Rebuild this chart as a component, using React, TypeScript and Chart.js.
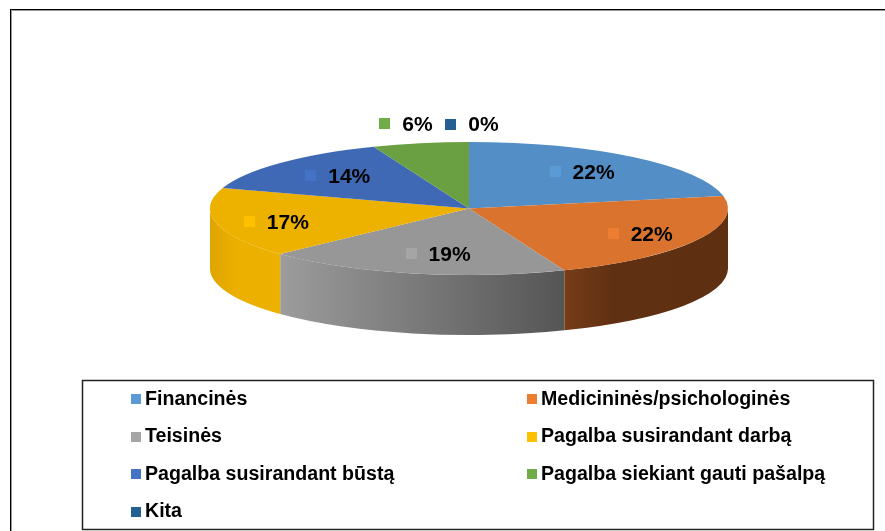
import React, { useEffect, useRef } from "react";
import { Chart, registerables } from "chart.js";

Chart.register(...registerables);

const categories = [
  "Financinės",
  "Medicininės/psichologinės",
  "Teisinės",
  "Pagalba susirandant darbą",
  "Pagalba susirandant būstą",
  "Pagalba siekiant gauti pašalpą",
  "Kita",
];
const shares = [22, 22, 19, 17, 14, 6, 0];

const legendColors = ["#5B9BD5", "#ED7D31", "#A5A5A5", "#FFC000", "#4472C4", "#70AD47", "#255E91"];
const topColors = ["#538FC6", "#D9732D", "#979797", "#EDB100", "#3F69B4", "#6AA042", "#255E91"];
const wallStops: [number, string][][] = [
  [[0, "#3A6285"], [1, "#3A6285"]],
  [[0, "#773C18"], [0.3, "#603012"], [1, "#5F2F12"]],
  [[0, "#9C9C9C"], [1, "#555555"]],
  [[0, "#DFA500"], [0.4, "#EBB000"], [1, "#EDB100"]],
  [[0, "#2E4C82"], [1, "#2E4C82"]],
  [[0, "#4C742F"], [1, "#4C742F"]],
  [[0, "#1A4368"], [1, "#1A4368"]],
];
// label nudges (px) from the point at 60% of the radius on each slice's mid-angle
const labelNudge = [[14, -6], [35, 6], [3, 7], [-41, 5], [-18, -5], [-34, -45], [3, -44]];

const CX = 469;
const CY = 208.5;
const RY_RATIO = 66.5 / 259;
const WALL = 60;
const FONT = '"Liberation Sans", Arial, sans-serif';

const pie3d = {
  id: "pie3d",
  beforeDraw(chart: any) {
    const { ctx, width, height } = chart;
    ctx.save();
    ctx.fillStyle = "#fff";
    ctx.fillRect(0, 0, width, height);
    ctx.fillStyle = "#000";
    ctx.fillRect(10, 9, width - 10, 1);
    ctx.fillRect(10, 9, 1, height - 9);
    ctx.fillStyle = "#999";
    ctx.fillRect(11, 10, width - 11, 1);
    ctx.fillRect(11, 10, 1, height - 10);
    ctx.restore();
  },
  beforeDatasetsDraw(chart: any) {
    const { ctx } = chart;
    const arcs = chart.getDatasetMeta(0).data;
    ctx.save();
    arcs.forEach((arc: any, i: number) => {
      const rx = arc.outerRadius;
      const ry = rx * RY_RATIO;
      const a0 = Math.max(arc.startAngle, 0);
      const a1 = Math.min(arc.endAngle, Math.PI);
      if (a1 <= a0) return;
      const x0 = CX + rx * Math.cos(a0);
      const x1 = CX + rx * Math.cos(a1);
      const g = ctx.createLinearGradient(Math.min(x0, x1), 0, Math.max(x0, x1), 0);
      // stops run left to right on screen
      wallStops[i].forEach(([p, c]) => g.addColorStop(p, c));
      ctx.beginPath();
      ctx.ellipse(CX, CY, rx, ry, 0, a0, a1, false);
      ctx.lineTo(CX + rx * Math.cos(a1), CY + ry * Math.sin(a1) + WALL);
      ctx.ellipse(CX, CY + WALL, rx, ry, 0, a1, a0, true);
      ctx.closePath();
      ctx.fillStyle = g;
      ctx.fill();
    });
    ctx.restore();
    const arc0 = arcs[0];
    ctx.save();
    ctx.translate(CX, CY);
    ctx.scale(1, RY_RATIO);
    ctx.translate(-arc0.x, -arc0.y);
  },
  afterDatasetsDraw(chart: any) {
    const { ctx } = chart;
    ctx.restore();
    const arcs = chart.getDatasetMeta(0).data;
    const total = shares.reduce((a, b) => a + b, 0);
    ctx.save();
    ctx.textBaseline = "middle";
    ctx.textAlign = "left";
    ctx.font = `bold 21px ${FONT}`;
    arcs.forEach((arc: any, i: number) => {
      const mid = (arc.startAngle + arc.endAngle) / 2;
      const rx = arc.outerRadius;
      const px = CX + 0.6 * rx * Math.cos(mid) + labelNudge[i][0];
      const py = CY + 0.6 * rx * RY_RATIO * Math.sin(mid) + labelNudge[i][1];
      const text = `${Math.round((shares[i] / total) * 100)}%`;
      const w = ctx.measureText(text).width;
      const left = px - (23 + w) / 2;
      ctx.fillStyle = legendColors[i];
      ctx.fillRect(Math.round(left), Math.round(py - 6), 11, 11);
      ctx.fillStyle = "#000";
      ctx.fillText(text, left + 23, py + 1);
    });
    // legend box
    ctx.strokeStyle = "#222";
    ctx.lineWidth = 1.5;
    ctx.strokeRect(82.5, 380.5, 791, 149);
    ctx.font = `bold 19.6px ${FONT}`;
    categories.forEach((name, i) => {
      const col = i % 2;
      const row = Math.floor(i / 2);
      const x = col === 0 ? 131 : 527;
      const y = 399 + row * 37.5;
      ctx.fillStyle = legendColors[i];
      ctx.fillRect(x, Math.round(y - 5), 10, 10);
      ctx.fillStyle = "#000";
      ctx.fillText(name, x + 14, y + 0.5);
    });
    ctx.restore();
  },
};

export default function App() {
  const ref = useRef<HTMLCanvasElement>(null);
  useEffect(() => {
    const chart = new Chart(ref.current as HTMLCanvasElement, {
      type: "pie",
      data: {
        labels: categories,
        datasets: [{ data: shares, backgroundColor: topColors, borderWidth: 0 }],
      },
      options: {
        animation: false,
        responsive: false,
        layout: { padding: { left: 210, right: 157, top: 6, bottom: 7 } },
        plugins: { legend: { display: false }, tooltip: { enabled: false } },
      },
      plugins: [pie3d],
    } as any);
    return () => chart.destroy();
  }, []);
  return (
    <div style={{ position: "fixed", left: 0, top: 0, width: 885, height: 531 }}>
      <canvas ref={ref} width={885} height={531} style={{ display: "block", width: 885, height: 531 }} />
    </div>
  );
}
